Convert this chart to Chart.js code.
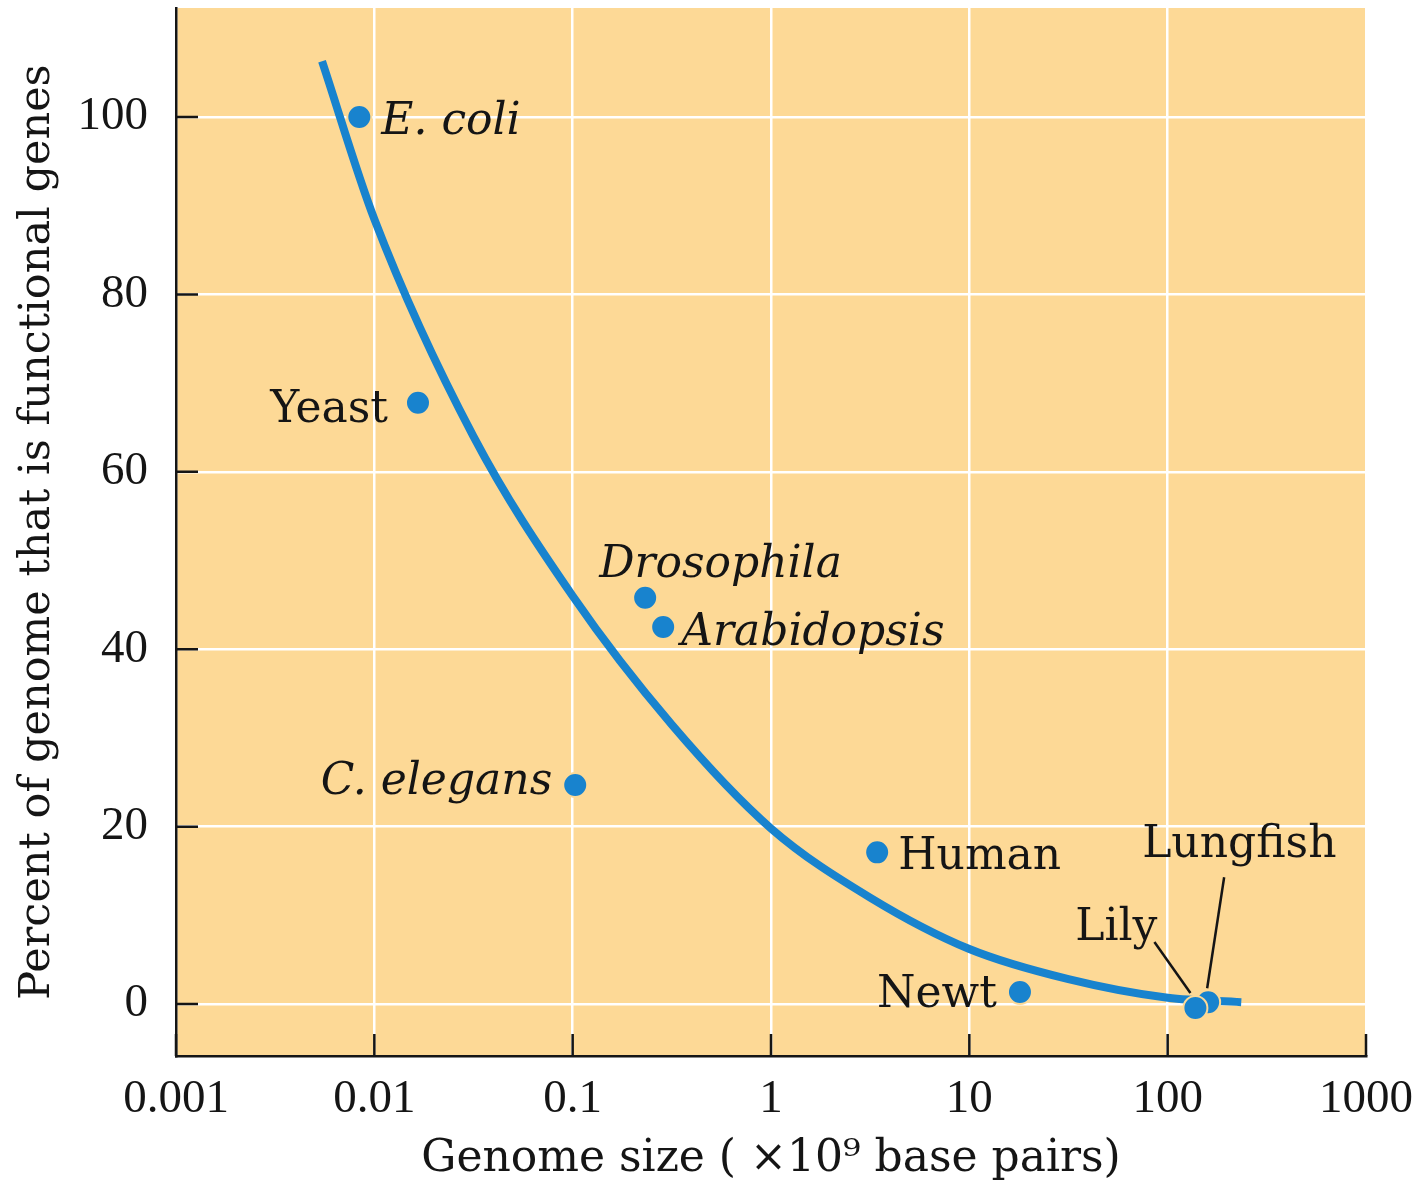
<!DOCTYPE html>
<html>
<head>
<meta charset="utf-8">
<script src="https://cdn.jsdelivr.net/npm/chart.js@4"></script>
<style>
  html, body { margin: 0; padding: 0; background: #fff; }
  #wrap { width: 1423px; height: 1188px; }
</style>
</head>
<body>
<div id="wrap"><canvas id="genomeChart"></canvas></div>
<script>
// organisms: genome size (x10^9 bp) and percent of genome that is functional genes
const species = ['E. coli', 'Yeast', 'C. elegans', 'Drosophila', 'Arabidopsis', 'Human', 'Newt', 'Lungfish', 'Lily'];
const genomeSize = [0.0084, 0.0166, 0.103, 0.232, 0.286, 3.43, 18.0, 160, 138];
const pctFunctional = [100, 67.8, 24.7, 45.8, 42.5, 17.1, 1.35, 0.2, -0.45];

// trend curve read along its length
const curveSize = [0.00545, 0.01, 0.0316, 0.1, 0.316, 1, 3.16, 10, 31.6, 100, 235];
const curvePct = [106.3, 88.5, 64, 46, 31.5, 19.8, 12, 6.2, 2.8, 0.7, 0.2];

const xTickValues = [0.001, 0.01, 0.1, 1, 10, 100, 1000];
const xTickLabels = ['0.001', '0.01', '0.1', '1', '10', '100', '1000'];
const yTickValues = [0, 20, 40, 60, 80, 100];
const yTickLabels = ['0', '20', '40', '60', '80', '100'];

const BLUE = 'rgb(24,131,206)';
const PANEL = 'rgb(253,217,150)';
const INK = '#151515';
const LABEL_FONT = '"DejaVu Serif", serif';
const TICK_FONT = '"Liberation Serif", serif';

// where each name sits relative to its dot
const labelStyle = {
  'E. coli':     { dx: 22,  dy: 17,   align: 'left',  italic: true },
  'Yeast':       { dx: -30, dy: 19,   align: 'right' },
  'C. elegans':  { dx: -23, dy: 9,    align: 'right', italic: true },
  'Drosophila':  { dx: -46, dy: -21,  align: 'left',  italic: true },
  'Arabidopsis': { dx: 18,  dy: 18,   align: 'left',  italic: true },
  'Human':       { dx: 21,  dy: 17,   align: 'left' },
  'Newt':        { dx: -23, dy: 15,   align: 'right' },
  'Lungfish':    { dx: -66, dy: -145, align: 'left',  leader: [16, -125, -1, -14] },
  'Lily':        { dx: -38, dy: -68,  align: 'right', leader: [-41, -66, -5, -15] }
};

const panelBackground = {
  id: 'panelBackground',
  beforeDraw(chart) {
    const { ctx, chartArea: a } = chart;
    ctx.save();
    ctx.fillStyle = PANEL;
    ctx.fillRect(a.left, a.top, a.right - a.left, a.bottom - a.top);
    ctx.restore();
  }
};

// short tick marks pointing into the plot
const innerTicks = {
  id: 'innerTicks',
  beforeDatasetsDraw(chart) {
    const { ctx, chartArea: a, scales } = chart;
    ctx.save();
    ctx.strokeStyle = INK;
    ctx.lineWidth = 2.5;
    ctx.beginPath();
    yTickValues.forEach(v => {
      const y = scales.y.getPixelForValue(v);
      ctx.moveTo(a.left, y);
      ctx.lineTo(a.left + 22, y);
    });
    xTickValues.forEach(v => {
      const x = scales.x.getPixelForValue(v);
      ctx.moveTo(x, a.bottom);
      ctx.lineTo(x, a.bottom - 22);
    });
    ctx.stroke();
    ctx.restore();
  }
};

const pointLabels = {
  id: 'pointLabels',
  afterDatasetsDraw(chart) {
    const { ctx } = chart;
    const meta = chart.getDatasetMeta(0);
    ctx.save();
    ctx.fillStyle = INK;
    ctx.strokeStyle = INK;
    ctx.lineWidth = 2.5;
    ctx.textBaseline = 'alphabetic';
    species.forEach((name, i) => {
      const p = meta.data[i];
      const s = labelStyle[name];
      if (s.leader) {
        ctx.beginPath();
        ctx.moveTo(p.x + s.leader[0], p.y + s.leader[1]);
        ctx.lineTo(p.x + s.leader[2], p.y + s.leader[3]);
        ctx.stroke();
      }
      ctx.font = (s.italic ? 'italic ' : '') + '44px ' + LABEL_FONT;
      ctx.textAlign = s.align;
      ctx.fillText(name, p.x + s.dx, p.y + s.dy);
    });
    ctx.restore();
  }
};

new Chart(document.getElementById('genomeChart'), {
  type: 'scatter',
  data: {
    datasets: [
      {
        data: genomeSize.map((x, i) => ({ x, y: pctFunctional[i] })),
        backgroundColor: BLUE,
        borderColor: PANEL,
        borderWidth: 2,
        pointRadius: 12,
        pointHoverRadius: 12
      },
      {
        data: curveSize.map((x, i) => ({ x, y: curvePct[i] })),
        showLine: true,
        borderColor: BLUE,
        borderWidth: 8,
        pointRadius: 0,
        cubicInterpolationMode: 'monotone',
        borderCapStyle: 'butt'
      }
    ]
  },
  options: {
    responsive: true,
    maintainAspectRatio: false,
    animation: false,
    layout: { autoPadding: false, padding: { top: 8, right: 57, left: 0, bottom: 0 } },
    plugins: { legend: { display: false }, tooltip: { enabled: false } },
    scales: {
      x: {
        type: 'logarithmic',
        min: 0.001,
        max: 1000,
        afterBuildTicks: s => { s.ticks = xTickValues.map(v => ({ value: v })); },
        afterFit: s => { s.height = 132; s.paddingLeft = 0; s.paddingRight = 0; },
        grid: { color: '#fff', lineWidth: 2.5, drawTicks: false },
        border: { display: true, color: INK, width: 2.5 },
        ticks: {
          autoSkip: false,
          maxRotation: 0,
          padding: 15,
          color: INK,
          font: { family: TICK_FONT, size: 47 },
          callback: v => xTickLabels[xTickValues.indexOf(v)]
        },
        title: {
          display: true,
          text: 'Genome size ( ×10⁹ base pairs)',
          color: INK,
          font: { family: LABEL_FONT, size: 44 },
          padding: { top: 0, bottom: 2 }
        }
      },
      y: {
        min: -5.86,
        max: 112.3,
        afterBuildTicks: s => { s.ticks = yTickValues.map(v => ({ value: v })); },
        afterFit: s => { s.width = 176; s.paddingTop = 0; s.paddingBottom = 0; },
        grid: { color: '#fff', lineWidth: 2.5, drawTicks: false },
        border: { display: true, color: INK, width: 2.5 },
        ticks: {
          padding: 28,
          color: INK,
          font: { family: TICK_FONT, size: 47 },
          callback: v => yTickLabels[yTickValues.indexOf(v)]
        },
        title: {
          display: true,
          text: 'Percent of genome that is functional genes',
          color: INK,
          font: { family: LABEL_FONT, size: 43 },
          padding: { top: 12, bottom: 0 }
        }
      }
    }
  },
  plugins: [panelBackground, innerTicks, pointLabels]
});
</script>
</body>
</html>
